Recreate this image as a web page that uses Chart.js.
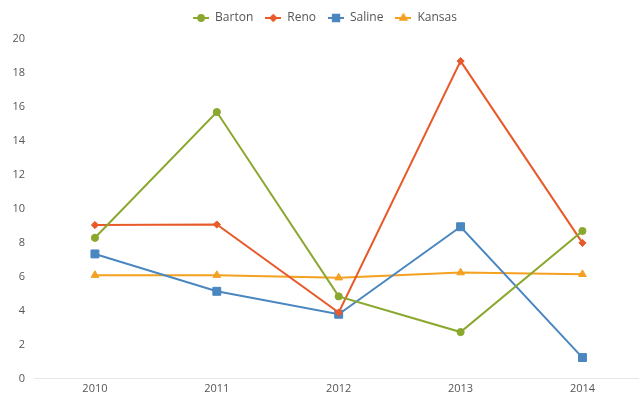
<!DOCTYPE html>
<html>
<head>
<meta charset="utf-8">
<script src="https://cdn.jsdelivr.net/npm/chart.js@4/dist/chart.umd.min.js"></script>
<style>
  html, body { margin: 0; padding: 0; background: #fff; overflow: hidden; }
  #wrap { width: 639px; height: 398px; overflow: hidden; }
</style>
</head>
<body>
<div id="wrap"><canvas id="chart-counties" width="650" height="398"></canvas></div>
<script>
const years = ['2010', '2011', '2012', '2013', '2014'];

const barton = [8.3, 15.7, 4.85, 2.75, 8.7];
const reno = [9.05, 9.08, 3.9, 18.7, 8.0];
const saline = [7.35, 5.15, 3.8, 8.95, 1.25];
const kansas = [6.1, 6.1, 5.95, 6.25, 6.15];

const seriesNames = ['Barton', 'Reno', 'Saline', 'Kansas'];
const seriesColors = ['#8aa82e', '#e85a2a', '#4a86c0', '#f4a020'];
const seriesMarkers = ['circle', 'rectRot', 'rect', 'triangle'];
const markerSizes = [3.6, 3.6, 5.6, 4.4];

// little line+marker icons for the legend
function legendIcon(color, marker, size) {
    const c = document.createElement('canvas');
    c.width = 16;
    c.height = 10;
    const ctx = c.getContext('2d');
    ctx.strokeStyle = color;
    ctx.fillStyle = color;
    ctx.lineWidth = 2;
    ctx.beginPath();
    ctx.moveTo(0, 5);
    ctx.lineTo(16, 5);
    ctx.stroke();
    Chart.helpers.drawPoint(ctx, { pointStyle: marker, radius: size, borderWidth: 1 }, 8, 5);
    ctx.fill();
    return c;
}

// a bit of extra room between the legend and the plot
const legendGap = {
    id: 'legendGap',
    beforeInit: function (chart) {
        const fit = chart.legend.fit;
        chart.legend.fit = function () {
            fit.bind(chart.legend)();
            this.height += 5;
        };
    }
};

const datasets = [barton, reno, saline, kansas].map(function (values, i) {
    return {
        label: seriesNames[i],
        data: values,
        borderColor: seriesColors[i],
        backgroundColor: seriesColors[i],
        pointStyle: seriesMarkers[i],
        pointRadius: markerSizes[i],
        pointBorderWidth: 1,
        borderWidth: 2,
        tension: 0
    };
});

const config = {
    type: 'line',
    data: {
        labels: years,
        datasets: datasets
    },
    plugins: [legendGap],
    options: {
        responsive: false,
        animation: false,
        layout: { padding: { top: 0, right: 0, left: 0, bottom: 0 } },
        plugins: {
            legend: {
                display: true,
                position: 'top',
                labels: {
                    color: '#555',
                    font: { family: 'Open Sans', size: 12 },
                    usePointStyle: true,
                    pointStyleWidth: 16,
                    boxHeight: 10,
                    padding: 12,
                    generateLabels: function (chart) {
                        return chart.data.datasets.map(function (ds, i) {
                            return {
                                text: ds.label,
                                pointStyle: legendIcon(seriesColors[i], seriesMarkers[i], markerSizes[i] * 0.8),
                                fillStyle: seriesColors[i],
                                strokeStyle: seriesColors[i],
                                fontColor: '#555',
                                lineWidth: 0,
                                datasetIndex: i
                            };
                        });
                    }
                }
            },
            tooltip: { enabled: false }
        },
        scales: {
            x: {
                offset: true,
                grid: { display: false, drawTicks: false },
                border: { display: true, color: '#e6e6e6', width: 1 },
                ticks: {
                    color: '#555',
                    font: { family: 'Open Sans', size: 11 },
                    padding: 3
                }
            },
            y: {
                min: 0,
                max: 20,
                grid: { display: false, drawTicks: false },
                border: { display: false },
                afterFit: function (scale) { scale.width = 34; },
                ticks: {
                    stepSize: 2,
                    color: '#555',
                    font: { family: 'Open Sans', size: 11 },
                    padding: 9
                }
            }
        }
    }
};

const chart = new Chart(document.getElementById('chart-counties'), config);
</script>
</body>
</html>
